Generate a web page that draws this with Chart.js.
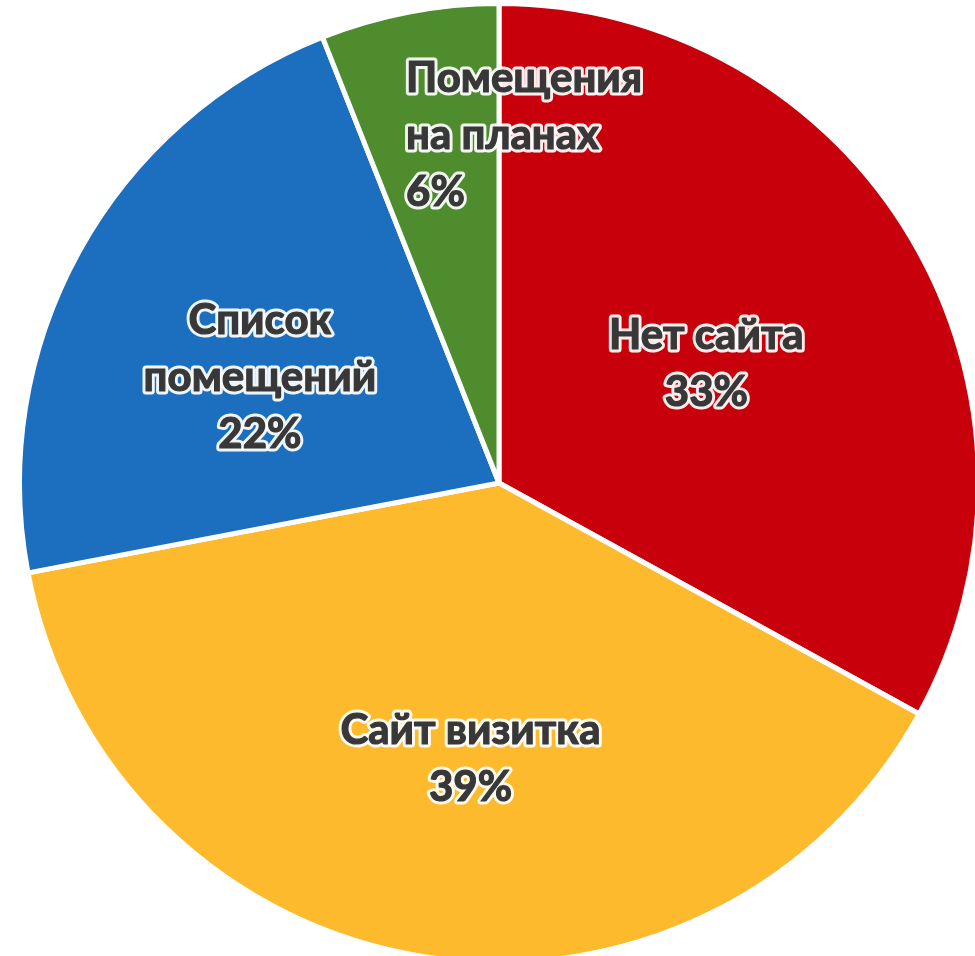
<!DOCTYPE html>
<html>
<head>
<meta charset="utf-8">
<script src="https://cdn.jsdelivr.net/npm/chart.js@4/dist/chart.umd.min.js"></script>
<style>
    html, body { margin: 0; padding: 0; background: #fff; overflow: hidden; width: 975px; height: 956px; }
    #wrap { position: absolute; left: 17px; top: 1px; width: 964px; height: 964px; }
</style>
</head>
<body>
<div id="wrap"><canvas id="chartPie"></canvas></div>
<script>
    // Данные диаграммы
    const categorias = ['Нет сайта', 'Сайт визитка', 'Список помещений', 'Помещения на планах'];
    const valores = [33, 39, 22, 6];
    const colores = ['#C8000C', '#FCBA2C', '#1C6EBE', '#4E8C2D'];

    // Разбивка подписей на строки и их размещение (доля радиуса + сдвиг)
    const lineasEtiqueta = [['Нет сайта'], ['Сайт визитка'], ['Список', 'помещений'], ['Помещения', 'на планах']];
    const posEtiqueta = [
        { f: 0.50, dx: 1, dy: 1, align: 'center' },
        { f: 0.58, dx: 15, dy: 0, align: 'center' },
        { f: 0.55, dx: -8, dy: 20, align: 'center' },
        { f: 0.70, dx: 88, dy: -19, align: 'left' }
    ];

    const FONT_SIZE = 42;
    const LINE_H = 57;

    const pieLabels = {
        id: 'pieLabels',
        afterDatasetsDraw(chart) {
            const ctx = chart.ctx;
            const meta = chart.getDatasetMeta(0);
            const total = valores.reduce((a, b) => a + b, 0);
            ctx.save();
            ctx.font = 'bold ' + FONT_SIZE + 'px Lato, "Open Sans", sans-serif';
            ctx.textBaseline = 'alphabetic';
            ctx.lineJoin = 'round';
            const capH = FONT_SIZE * 0.72;
            meta.data.forEach((arc, i) => {
                const p = arc.getProps(['x', 'y', 'startAngle', 'endAngle', 'outerRadius'], true);
                const mid = (p.startAngle + p.endAngle) / 2;
                const cfg = posEtiqueta[i];
                const d = p.outerRadius * cfg.f;
                const cx = p.x + Math.cos(mid) * d + cfg.dx;
                const cy = p.y + Math.sin(mid) * d + cfg.dy;
                const lines = lineasEtiqueta[i].concat([Math.round(valores[i] / total * 100) + '%']);
                const h = capH + (lines.length - 1) * LINE_H;
                let y = cy - h / 2 + capH;
                let x = cx;
                if (cfg.align === 'left') {
                    const w = Math.max(...lines.map(l => ctx.measureText(l).width));
                    x = cx - w / 2;
                }
                ctx.textAlign = cfg.align;
                lines.forEach(l => {
                    ctx.strokeStyle = 'rgba(255,255,255,0.92)';
                    ctx.lineWidth = 7;
                    ctx.strokeText(l, x, y);
                    ctx.fillStyle = '#383838';
                    ctx.fillText(l, x, y);
                    ctx.strokeStyle = '#383838';
                    ctx.lineWidth = 1.2;
                    ctx.strokeText(l, x, y);
                    y += LINE_H;
                });
            });
            ctx.restore();
        }
    };

    new Chart(document.getElementById('chartPie'), {
        type: 'pie',
        data: {
            labels: categorias,
            datasets: [{
                data: valores,
                backgroundColor: colores,
                borderColor: '#FFFFFF',
                borderWidth: 5
            }]
        },
        options: {
            responsive: true,
            maintainAspectRatio: false,
            animation: false,
            layout: { padding: 0 },
            plugins: {
                legend: { display: false },
                tooltip: { enabled: false }
            }
        },
        plugins: [pieLabels]
    });
</script>
</body>
</html>
